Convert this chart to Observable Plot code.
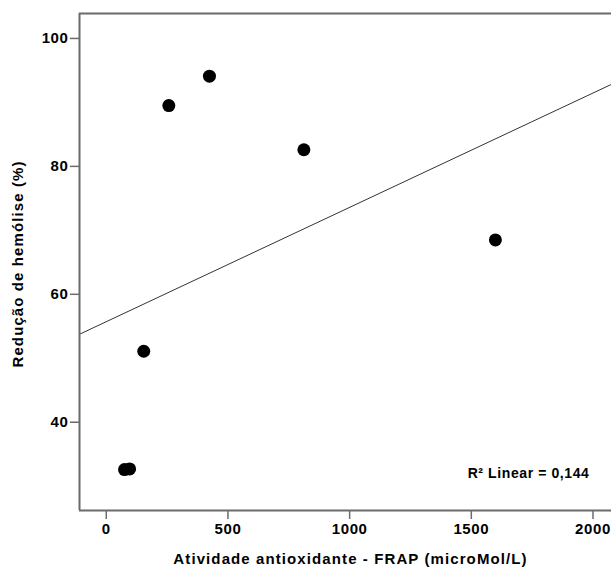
<!DOCTYPE html>
<html>
<head>
<meta charset="utf-8">
<script src="https://cdn.jsdelivr.net/npm/d3@7"></script>
<script src="https://cdn.jsdelivr.net/npm/@observablehq/plot@0.6"></script>
<style>
  html, body { margin: 0; padding: 0; background: #fff; }
  .ticks text { letter-spacing: 0.6px; }
  .r2 text { letter-spacing: 0.6px; }
  .title text { letter-spacing: 1.1px; }
</style>
</head>
<body>
<div id="chart"></div>
<script>
const frap = [257, 424, 812, 1599, 154, 75, 96];
const reducao = [89.5, 94.1, 82.6, 68.5, 51.1, 32.6, 32.7];
const xTicks = [0, 500, 1000, 1500, 2000];
const yTicks = [40, 60, 80, 100];
const xDomain = [-110, 2076];
const yDomain = [26.2, 103.9];
const xLabel = "Atividade antioxidante - FRAP (microMol/L)";
const yLabel = "Redução de hemólise (%)";
const r2Label = "R² Linear = 0,144";

const data = frap.map((x, i) => ({x, y: reducao[i]}));
const mx = d3.mean(frap), my = d3.mean(reducao);
const sxy = d3.sum(data, d => (d.x - mx) * (d.y - my));
const sxx = d3.sum(data, d => (d.x - mx) ** 2);
const slope = sxy / sxx;
const intercept = my - slope * mx;
const fit = xDomain.map(x => ({x, y: intercept + slope * x}));

const frameColor = "#6b6b6b";
const tickFont = "'Liberation Sans', Arial, sans-serif";
const chart = Plot.plot({
  width: 611,
  height: 569,
  marginLeft: 79,
  marginRight: 0,
  marginTop: 13,
  marginBottom: 59,
  style: {fontFamily: tickFont, fontSize: "15px", fontWeight: "bold", color: "#000", background: "#fff"},
  x: {domain: xDomain},
  y: {domain: yDomain},
  marks: [
    Plot.line(fit, {x: "x", y: "y", stroke: "#333", strokeWidth: 1, clip: true}),
    Plot.dot(data, {x: "x", y: "y", r: 6.5, fill: "#000", stroke: "none"}),
    Plot.ruleY([yDomain[0]], {stroke: frameColor, strokeWidth: 2}),
    Plot.ruleY([yDomain[1]], {stroke: frameColor, strokeWidth: 2}),
    Plot.ruleX([xDomain[0]], {stroke: frameColor, strokeWidth: 2}),
    Plot.axisX({ticks: xTicks, tickFormat: d3.format("d"), tickSize: 9, tickPadding: 4, stroke: frameColor, strokeWidth: 1.5, label: null, fontSize: 15, fontWeight: "bold", className: "ticks"}),
    Plot.axisY({ticks: yTicks, tickFormat: d3.format("d"), tickSize: 9, tickPadding: 2, stroke: frameColor, strokeWidth: 1.5, label: null, fontSize: 15, fontWeight: "bold", className: "ticks"}),
    Plot.text([r2Label], {frameAnchor: "bottom-right", dx: -22, dy: -33, textAnchor: "end", fontSize: 14, fontWeight: "bold", fill: "#000", className: "r2"}),
    Plot.text([xLabel], {frameAnchor: "bottom", dx: 5, dy: 53, textAnchor: "middle", fontSize: 15, fontWeight: "bold", fill: "#000", className: "title"}),
    Plot.text([yLabel], {frameAnchor: "left", dx: -61, dy: 2, rotate: -90, textAnchor: "middle", fontSize: 15, fontWeight: "bold", fill: "#000", className: "title"})
  ]
});
document.getElementById("chart").appendChild(chart);
</script>
</body>
</html>
